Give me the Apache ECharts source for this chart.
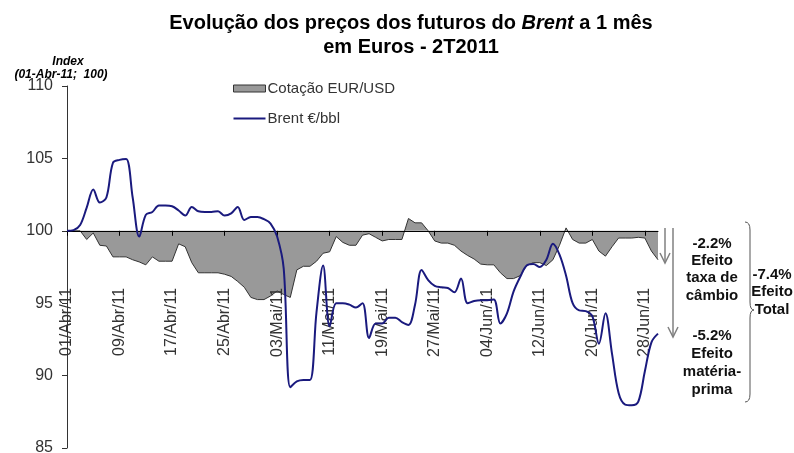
<!DOCTYPE html>
<html>
<head>
<meta charset="utf-8">
<script src="https://cdn.jsdelivr.net/npm/echarts@6/dist/echarts.min.js"></script>
<style>
html,body{margin:0;padding:0;background:#fff;}
#chart{width:794px;height:453px;}
</style>
</head>
<body>
<div id="chart"></div>
<script>
const categories = [
'01/Abr/11','02/Abr/11','03/Abr/11','04/Abr/11','05/Abr/11','06/Abr/11','07/Abr/11','08/Abr/11','09/Abr/11','10/Abr/11',
'11/Abr/11','12/Abr/11','13/Abr/11','14/Abr/11','15/Abr/11','16/Abr/11','17/Abr/11','18/Abr/11','19/Abr/11','20/Abr/11',
'21/Abr/11','22/Abr/11','23/Abr/11','24/Abr/11','25/Abr/11','26/Abr/11','27/Abr/11','28/Abr/11','29/Abr/11','30/Abr/11',
'01/Mai/11','02/Mai/11','03/Mai/11','04/Mai/11','05/Mai/11','06/Mai/11','07/Mai/11','08/Mai/11','09/Mai/11','10/Mai/11',
'11/Mai/11','12/Mai/11','13/Mai/11','14/Mai/11','15/Mai/11','16/Mai/11','17/Mai/11','18/Mai/11','19/Mai/11','20/Mai/11',
'21/Mai/11','22/Mai/11','23/Mai/11','24/Mai/11','25/Mai/11','26/Mai/11','27/Mai/11','28/Mai/11','29/Mai/11','30/Mai/11',
'31/Mai/11','01/Jun/11','02/Jun/11','03/Jun/11','04/Jun/11','05/Jun/11','06/Jun/11','07/Jun/11','08/Jun/11','09/Jun/11',
'10/Jun/11','11/Jun/11','12/Jun/11','13/Jun/11','14/Jun/11','15/Jun/11','16/Jun/11','17/Jun/11','18/Jun/11','19/Jun/11',
'20/Jun/11','21/Jun/11','22/Jun/11','23/Jun/11','24/Jun/11','25/Jun/11','26/Jun/11','27/Jun/11','28/Jun/11','29/Jun/11',
'30/Jun/11'
];

const eurUsd = [
100, 100, 100, 99.4, 99.85, 99.0, 98.95, 98.2, 98.2, 98.2,
98.0, 97.85, 97.65, 98.2, 97.9, 97.9, 97.9, 99.1, 98.9, 97.8,
97.1, 97.1, 97.1, 97.1, 97.0, 96.85, 96.5, 96.1, 95.4, 95.25,
95.25, 95.5, 95.85, 95.6, 95.4, 97.3, 97.55, 97.55, 97.9, 98.45,
98.55, 99.6, 99.2, 99.0, 99.0, 99.7, 99.8, 99.55, 99.3, 99.4,
99.4, 99.4, 100.85, 100.55, 100.55, 100.0, 99.3, 99.15, 99.15, 99.0,
98.6, 98.3, 98.05, 97.7, 97.65, 97.65, 97.1, 96.7, 96.7, 96.9,
97.6, 97.8, 97.8, 97.6, 98.0, 99.0, 100.2, 99.4, 99.15, 99.15,
99.4, 98.6, 98.25, 98.9, 99.5, 99.5, 99.5, 99.55, 99.5, 98.6,
98.0
];

const brent = [
100, 100.05, 100.4, 101.6, 102.85, 101.95, 102.3, 104.7, 104.9, 104.95,
102.3, 99.6, 101.1, 101.3, 101.75, 101.75, 101.7, 101.4, 101.05, 101.65,
101.35, 101.3, 101.3, 101.35, 101.05, 101.2, 101.65, 100.75, 100.95, 100.95,
100.8, 100.5, 99.6, 97.4, 89.2, 89.6, 89.7, 89.7, 94.4, 97.6,
93.4, 95.0, 95.0, 94.9, 94.7, 95.0, 92.6, 93.6, 93.6, 94.0,
94.0, 93.7, 93.5, 94.9, 97.3, 96.6, 96.2, 96.1, 96.05, 95.75,
96.7, 95.0, 95.15, 95.2, 95.2, 95.25, 93.6, 94.3, 95.8, 96.8,
97.6, 97.7, 97.5, 98.0, 99.1, 98.35, 96.9, 95.0, 94.5, 94.45,
94.1, 92.2, 94.3, 91.5, 88.8, 88.0, 87.95, 88.2, 90.3, 92.3,
92.9
];

const baseIndex = 100;
const yTicks = [85, 90, 95, 100, 105, 110];
const seriesNames = ['Cotação EUR/USD', 'Brent €/bbl'];

const FONT = '"Liberation Sans", Arial, sans-serif';
const chart = echarts.init(document.getElementById('chart'), null, {renderer: 'canvas'});

const GRID_TOP = 86, GRID_H = 362;
const yMin = yTicks[0] - baseIndex, yMax = yTicks[yTicks.length - 1] - baseIndex;
// x axis sits on the 100 line: shift it up from the grid bottom
const xAxisOffset = -GRID_H * (0 - yMin) / (yMax - yMin);

const ARROW = {stroke: '#808080', lineWidth: 1.5, fill: null};
const BRACE = {stroke: '#555', lineWidth: 1, fill: null};

const option = {
  animation: false,
  backgroundColor: '#fff',
  textStyle: {fontFamily: FONT},
  grid: {left: 67, right: 136, top: GRID_TOP, height: GRID_H, containLabel: false, outerBoundsMode: 'none'},
  legend: {
    orient: 'vertical',
    left: 233, top: 81,
    padding: 0,
    itemWidth: 32, itemHeight: 7, itemGap: 15,
    textStyle: {fontSize: 15, color: '#333', fontFamily: FONT, padding: [0,0,0,-3]},
    data: [
      {name: seriesNames[0], icon: 'rect', itemStyle: {color: '#999', borderColor: '#333', borderWidth: 1}},
      {name: seriesNames[1], icon: 'path://M0,0 L32,0 L32,2 L0,2 Z', itemStyle: {color: '#1a1a7e', borderWidth: 0}}
    ]
  },
  xAxis: {
    type: 'category',
    data: categories,
    boundaryGap: false,
    position: 'bottom',
    offset: xAxisOffset,
    z: 2,
    axisLine: {onZero: false, lineStyle: {color: '#000', width: 1}},
    axisTick: {show: true, interval: 7, length: 5, lineStyle: {color: '#000'}},
    axisLabel: {interval: 7, rotate: 90, margin: 57, fontSize: 16, color: '#333', fontFamily: FONT},
    splitLine: {show: false}
  },
  yAxis: {
    type: 'value',
    min: yMin,
    max: yMax,
    interval: 5,
    axisLine: {show: true, lineStyle: {color: '#333'}},
    axisTick: {show: true, length: 5, lineStyle: {color: '#333'}},
    axisLabel: {fontSize: 16, color: '#333', margin: 14, fontFamily: FONT,
      formatter: v => String(v + baseIndex)},
    splitLine: {show: false}
  },
  series: [
    {
      name: seriesNames[0],
      type: 'line',
      data: eurUsd.map(v => +(v - baseIndex).toFixed(3)),
      symbol: 'none',
      itemStyle: {color: '#999'},
      lineStyle: {color: '#333', width: 1},
      areaStyle: {color: '#999', opacity: 1},
      z: 1
    },
    {
      name: seriesNames[1],
      type: 'line',
      data: brent.map(v => +(v - baseIndex).toFixed(3)),
      symbol: 'none',
      smooth: 0.35,
      itemStyle: {color: '#1a1a7e'},
      lineStyle: {color: '#1a1a7e', width: 2},
      z: 3
    }
  ],
  graphic: [
    {type: 'text', x: 411, y: 23, style: {
      text: 'Evolução dos preços dos futuros do {i|Brent} a 1 mês',
      font: 'bold 20px ' + FONT, fill: '#000', textAlign: 'center', textVerticalAlign: 'middle',
      rich: {i: {fontStyle: 'italic', fontWeight: 'bold', fontSize: 20, fontFamily: FONT}}
    }},
    {type: 'text', x: 411, y: 47, style: {
      text: 'em Euros - 2T2011', font: 'bold 20px ' + FONT, fill: '#000', textAlign: 'center', textVerticalAlign: 'middle'
    }},
    {type: 'text', x: 68, y: 62, style: {
      text: 'Index', font: 'italic bold 12px ' + FONT, fill: '#000', textAlign: 'center', textVerticalAlign: 'middle'
    }},
    {type: 'text', x: 61, y: 75, style: {
      text: '(01-Abr-11;  100)', font: 'italic bold 12px ' + FONT, fill: '#000', textAlign: 'center', textVerticalAlign: 'middle'
    }},
    // arrows
    {type: 'line', shape: {x1: 665, y1: 228, x2: 665, y2: 263}, style: ARROW},
    {type: 'polyline', shape: {points: [[660, 253], [665, 263], [670, 253]]}, style: ARROW},
    {type: 'line', shape: {x1: 673, y1: 228, x2: 673, y2: 337}, style: ARROW},
    {type: 'polyline', shape: {points: [[668, 327], [673, 337], [678, 327]]}, style: ARROW},
    // brace
    {type: 'bezierCurve', shape: {x1: 745, y1: 222, cpx1: 750, cpy1: 222, x2: 750, y2: 230}, style: BRACE},
    {type: 'line', shape: {x1: 750, y1: 230, x2: 750, y2: 302}, style: BRACE},
    {type: 'bezierCurve', shape: {x1: 750, y1: 302, cpx1: 750, cpy1: 310, x2: 754, y2: 310}, style: BRACE},
    {type: 'bezierCurve', shape: {x1: 754, y1: 310, cpx1: 750, cpy1: 310, x2: 750, y2: 318}, style: BRACE},
    {type: 'line', shape: {x1: 750, y1: 318, x2: 750, y2: 394}, style: BRACE},
    {type: 'bezierCurve', shape: {x1: 750, y1: 394, cpx1: 750, cpy1: 402, x2: 745, y2: 402}, style: BRACE},
    {type: 'text', x: 712, y: 235, style: {
      text: '-2.2%\nEfeito\ntaxa de\ncâmbio', font: 'bold 15px ' + FONT, fill: '#111', textAlign: 'center', textVerticalAlign: 'top', lineHeight: 17.3
    }},
    {type: 'text', x: 712, y: 327, style: {
      text: '-5.2%\nEfeito\nmatéria-\nprima', font: 'bold 15px ' + FONT, fill: '#111', textAlign: 'center', textVerticalAlign: 'top', lineHeight: 18
    }},
    {type: 'text', x: 772, y: 266, style: {
      text: '-7.4%\nEfeito\nTotal', font: 'bold 15px ' + FONT, fill: '#111', textAlign: 'center', textVerticalAlign: 'top', lineHeight: 17.5
    }}
  ]
};
chart.setOption(option);
</script>
</body>
</html>
